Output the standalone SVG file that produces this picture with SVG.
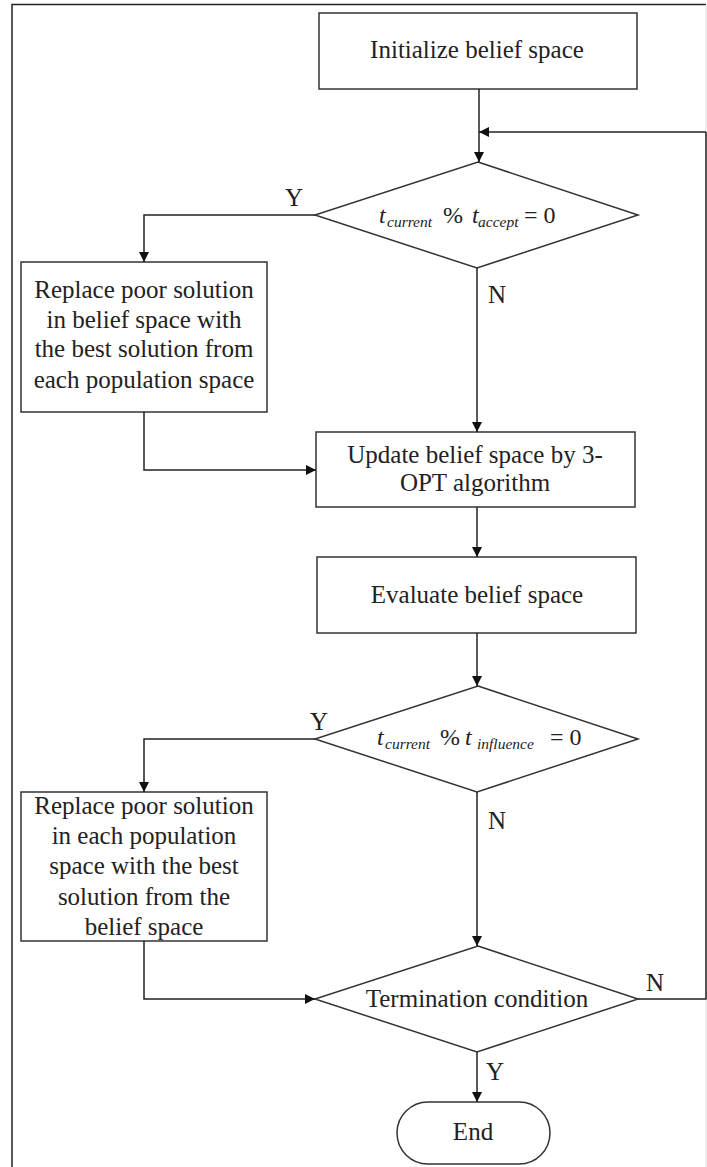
<svg xmlns="http://www.w3.org/2000/svg" width="707" height="1167" viewBox="0 0 707 1167">
  <defs>
    <marker id="arrow" viewBox="0 0 10 10" refX="10" refY="5" markerWidth="10" markerHeight="10" markerUnits="userSpaceOnUse" orient="auto">
      <path d="M0,0 L10,5 L0,10 z" fill="#111"/>
    </marker>
    <style>
      .box { fill: #fff; stroke: #333; stroke-width: 1.5; }
      .frame { fill: none; stroke: #222; stroke-width: 1.5; }
      .edge { fill: none; stroke: #222; stroke-width: 1.5; }
      .txt { font-family: "Liberation Serif", "Times New Roman", serif; font-size: 25px; fill: #222; }
      .mid { text-anchor: middle; }
      .eq { font-size: 24px; }
      .it { font-style: italic; }
      .sub { font-style: italic; font-size: 15.5px; }
    </style>
  </defs>

  <rect width="707" height="1167" fill="#fff"/>
  <!-- outer frame -->
  <path class="frame" d="M12,1167 V4.5 H706"/>
  <path d="M706,4.5 V1167" stroke="#ddd" stroke-width="1" fill="none"/>

  <g id="init">
    <rect class="box" x="319" y="13" width="318" height="76"/>
    <text class="txt mid" x="477" y="58">Initialize belief space</text>
  </g>

  <g id="check-accept">
    <polygon class="box" points="478,162 638,215 477,268 315,215"/>
    <text class="txt eq"><tspan class="it" x="379" y="223">t</tspan><tspan class="sub" x="387" y="227">current</tspan><tspan x="443" y="223">%</tspan><tspan class="it" x="472" y="223">t</tspan><tspan class="sub" x="478" y="227">accept</tspan><tspan x="524" y="223">= 0</tspan></text>
  </g>

  <g id="replace-belief">
    <rect class="box" x="21" y="262" width="246" height="150"/>
    <text class="txt mid" x="144" y="298">Replace poor solution</text>
    <text class="txt mid" x="144" y="328">in belief space with</text>
    <text class="txt mid" x="144" y="357">the best solution from</text>
    <text class="txt mid" x="144" y="388">each population space</text>
  </g>

  <g id="update">
    <rect class="box" x="316" y="432" width="319" height="75"/>
    <text class="txt mid" x="475" y="463">Update belief space by 3-</text>
    <text class="txt mid" x="475" y="491">OPT algorithm</text>
  </g>

  <g id="evaluate">
    <rect class="box" x="317" y="557" width="319" height="76"/>
    <text class="txt mid" x="477" y="603">Evaluate belief space</text>
  </g>

  <g id="check-influence">
    <polygon class="box" points="478,686 638,739 477,792 315,739"/>
    <text class="txt eq"><tspan class="it" x="377" y="745">t</tspan><tspan class="sub" x="385" y="749">current</tspan><tspan x="440" y="745">%</tspan><tspan class="it" x="465" y="745">t</tspan><tspan class="sub" x="477" y="749">influence</tspan><tspan x="550" y="745">= 0</tspan></text>
  </g>

  <g id="replace-population">
    <rect class="box" x="21" y="792" width="246" height="149"/>
    <text class="txt mid" x="144" y="814">Replace poor solution</text>
    <text class="txt mid" x="144" y="844">in each population</text>
    <text class="txt mid" x="144" y="874">space with the best</text>
    <text class="txt mid" x="144" y="905">solution from the</text>
    <text class="txt mid" x="144" y="935">belief space</text>
  </g>

  <g id="termination">
    <polygon class="box" points="478,946 638,999 477,1052 315,999"/>
    <text class="txt mid" x="477" y="1007">Termination condition</text>
  </g>

  <g id="end">
    <rect class="box" x="397" y="1102" width="153" height="62" rx="31" ry="31"/>
    <text class="txt mid" x="473" y="1140">End</text>
  </g>

  <g id="connectors">
    <path class="edge" d="M479,89 V162" marker-end="url(#arrow)"/>
    <path class="edge" d="M706,132 H479" marker-end="url(#arrow)"/>
    <path class="edge" d="M315,215 H144 V262" marker-end="url(#arrow)"/>
    <path class="edge" d="M477,268 V432" marker-end="url(#arrow)"/>
    <path class="edge" d="M144,412 V470 H316" marker-end="url(#arrow)"/>
    <path class="edge" d="M477,507 V557" marker-end="url(#arrow)"/>
    <path class="edge" d="M477,633 V686" marker-end="url(#arrow)"/>
    <path class="edge" d="M315,739 H144 V792" marker-end="url(#arrow)"/>
    <path class="edge" d="M477,792 V946" marker-end="url(#arrow)"/>
    <path class="edge" d="M144,941 V999 H315" marker-end="url(#arrow)"/>
    <path class="edge" d="M477,1052 V1102" marker-end="url(#arrow)"/>
    <path class="edge" d="M638,999 H706 V132"/>
    <text class="txt" x="285" y="206">Y</text>
    <text class="txt" x="488" y="303">N</text>
    <text class="txt" x="310" y="730">Y</text>
    <text class="txt" x="488" y="829">N</text>
    <text class="txt" x="646" y="991">N</text>
    <text class="txt" x="486" y="1080">Y</text>
  </g>
</svg>
